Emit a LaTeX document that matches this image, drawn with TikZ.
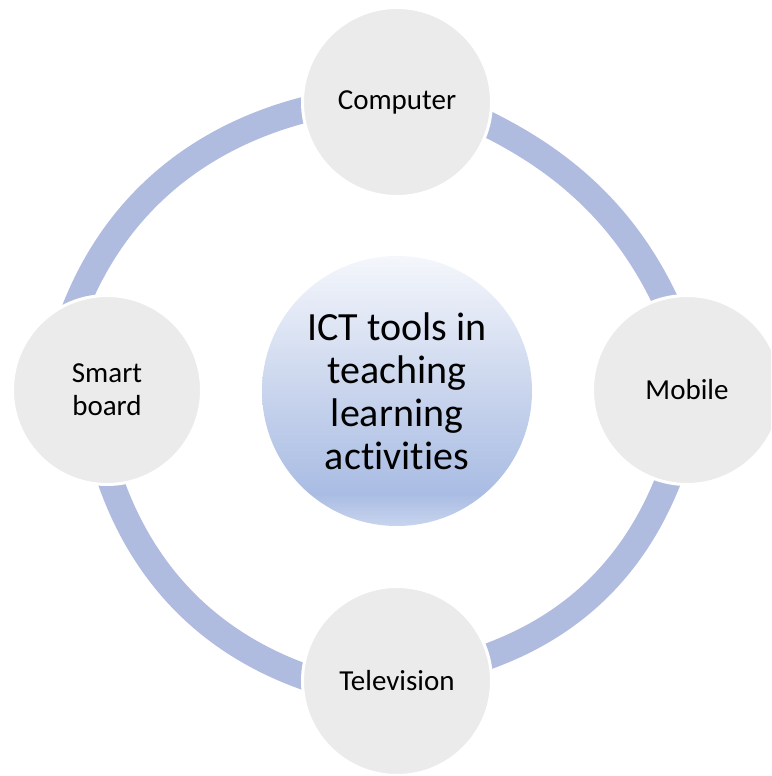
\documentclass[tikz,border=0pt]{standalone}
\usepackage{fontspec}
\setmainfont[Ligatures=NoCommon]{Carlito}

\definecolor{ringblue}{HTML}{B0BCDF}
\definecolor{toolgray}{HTML}{EBEBEB}
\definecolor{hubtop}{HTML}{F4F6FB}
\definecolor{hubdark}{HTML}{A9BCE3}
\definecolor{hubbottom}{HTML}{C8D4EE}

\pgfdeclareverticalshading{hubshade}{100bp}{
    color(0bp)=(hubbottom); color(25bp)=(hubbottom); color(31bp)=(hubdark);
    color(75bp)=(hubtop); color(100bp)=(hubtop)}

\pgfdeclarelayer{background}
\pgfsetlayers{background,main}

\begin{document}
\begin{tikzpicture}[
    x=1pt, y=1pt,
    ring/.style={draw=ringblue, line width=26pt,
        shorten <=-15pt, shorten >=-15pt, looseness=0.9},
    tool/.style={circle, fill=toolgray, draw=white, line width=3pt,
        minimum size=189pt, inner sep=0pt, align=center,
        font=\fontsize{29}{33}\selectfont},
    hub/.style={circle, shading=hubshade, minimum size=270pt, inner sep=0pt,
        align=center, font=\fontsize{40}{43}\selectfont},
]
    \useasboundingbox (0, 0) rectangle (771, 776);
    \clip (0, 0) rectangle (771, 776);

    \node[hub] (ict) at (397, 385) {ICT tools in\\teaching\\learning\\activities};

    \node[tool] (computer) at (397, 674) {Computer};
    \node[tool] (mobile) at (687, 386) {Mobile};
    \node[tool] (tv) at (397, 95) {Television};
    \node[tool] (smartboard) at (107, 386) {Smart\\board};

    \begin{pgfonlayer}{background}
        \draw[ring] (smartboard.107) to[out=69, in=193] (computer.185);
        \draw[ring] (computer.-14) to[out=-25, in=114, looseness=0.88] (mobile.104);
        \draw[ring] (mobile.258) to[out=-110, in=18] (tv.15);
        \draw[ring] (tv.177) to[out=162, in=-72] (smartboard.273);
    \end{pgfonlayer}
\end{tikzpicture}
\end{document}
